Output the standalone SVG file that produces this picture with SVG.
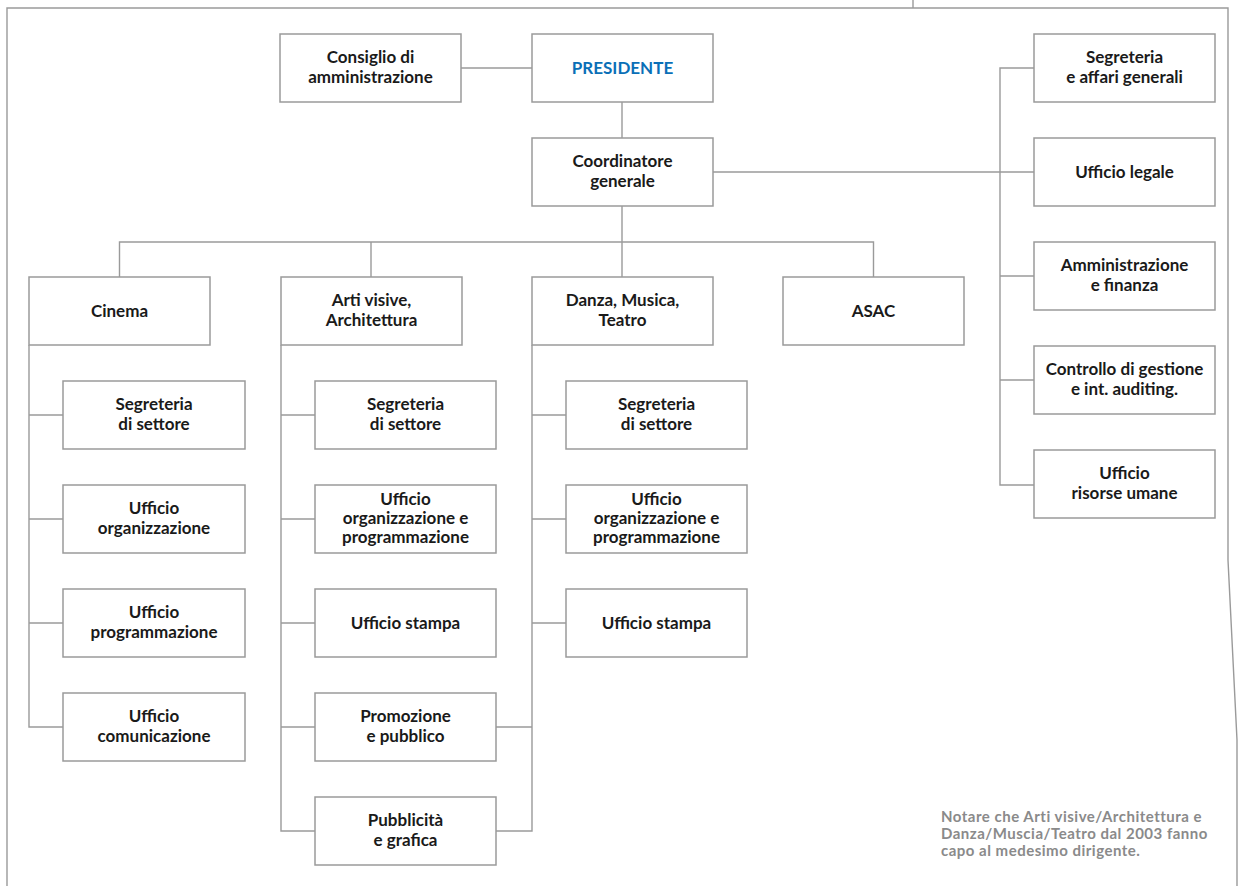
<svg xmlns="http://www.w3.org/2000/svg" width="1239" height="886" viewBox="0 0 1239 886">
<style>
.box{fill:#fff;stroke:#9a9a9a;stroke-width:1.5}
.ln{fill:none;stroke:#9a9a9a;stroke-width:1.4}
.t{font-family:Lato,"Liberation Sans",sans-serif;font-weight:bold;font-size:17px;fill:#1a1a1a;text-anchor:middle}
.pres{fill:#0a6fb7;font-size:17px}
.note{font-family:Lato,"Liberation Sans",sans-serif;font-weight:bold;font-size:15px;letter-spacing:0.5px;fill:#8a8a8a}
</style>
<rect width="1239" height="886" fill="#fff"/>
<g id="frame" class="ln">
<path d="M7,886 V8 H1228 V560 L1237,740 V886"/>
<path d="M913,0 V8"/>
</g>
<g id="connectors" class="ln">
<path d="M461,68 H532"/>
<path d="M622,102 V138"/>
<path d="M622,206 V277"/>
<path d="M119.5,277 V242 H873.5 V277"/>
<path d="M371,242 V277"/>
<path d="M713,172 H1034"/>
<path d="M1034,68 H1000 V485 H1034"/>
<path d="M1000,276 H1034"/>
<path d="M1000,380 H1034"/>
<path d="M29,345 V727 H63"/>
<path d="M29,415 H63 M29,519 H63 M29,623 H63"/>
<path d="M281,345 V831 H315"/>
<path d="M281,415 H315 M281,519 H315 M281,623 H315 M281,727 H315"/>
<path d="M532,345 V831 H496"/>
<path d="M532,415 H566 M532,519 H566 M532,623 H566 M496,727 H532"/>
</g>
<g id="consiglio"><rect class="box" x="280" y="34" width="181" height="68"/><text class="t" x="370.5" y="63">Consiglio di</text><text class="t" x="370.5" y="83">amministrazione</text></g>
<g id="presidente"><rect class="box" x="532" y="34" width="181" height="68"/><text class="t pres" x="622.5" y="74">PRESIDENTE</text></g>
<g id="coordinatore"><rect class="box" x="532" y="138" width="181" height="68"/><text class="t" x="622.5" y="167">Coordinatore</text><text class="t" x="622.5" y="187">generale</text></g>
<g id="segreteria-affari"><rect class="box" x="1034" y="34" width="181" height="68"/><text class="t" x="1124.5" y="63">Segreteria</text><text class="t" x="1124.5" y="83">e affari generali</text></g>
<g id="ufficio-legale"><rect class="box" x="1034" y="138" width="181" height="68"/><text class="t" x="1124.5" y="178">Ufficio legale</text></g>
<g id="amministrazione"><rect class="box" x="1034" y="242" width="181" height="68"/><text class="t" x="1124.5" y="271">Amministrazione</text><text class="t" x="1124.5" y="291">e finanza</text></g>
<g id="controllo"><rect class="box" x="1034" y="346" width="181" height="68"/><text class="t" x="1124.5" y="375">Controllo di gestione</text><text class="t" x="1124.5" y="395">e int. auditing.</text></g>
<g id="risorse-umane"><rect class="box" x="1034" y="450" width="181" height="68"/><text class="t" x="1124.5" y="479">Ufficio</text><text class="t" x="1124.5" y="499">risorse umane</text></g>
<g id="cinema"><rect class="box" x="29" y="277" width="181" height="68"/><text class="t" x="119.5" y="317">Cinema</text></g>
<g id="arti"><rect class="box" x="281" y="277" width="181" height="68"/><text class="t" x="371.5" y="306">Arti visive,</text><text class="t" x="371.5" y="326">Architettura</text></g>
<g id="danza"><rect class="box" x="532" y="277" width="181" height="68"/><text class="t" x="622.5" y="306">Danza, Musica,</text><text class="t" x="622.5" y="326">Teatro</text></g>
<g id="asac"><rect class="box" x="783" y="277" width="181" height="68"/><text class="t" x="873.5" y="317">ASAC</text></g>
<g id="cinema-segreteria"><rect class="box" x="63" y="381" width="182" height="68"/><text class="t" x="154" y="410">Segreteria</text><text class="t" x="154" y="430">di settore</text></g>
<g id="cinema-organizzazione"><rect class="box" x="63" y="485" width="182" height="68"/><text class="t" x="154" y="514">Ufficio</text><text class="t" x="154" y="534">organizzazione</text></g>
<g id="cinema-programmazione"><rect class="box" x="63" y="589" width="182" height="68"/><text class="t" x="154" y="618">Ufficio</text><text class="t" x="154" y="638">programmazione</text></g>
<g id="cinema-comunicazione"><rect class="box" x="63" y="693" width="182" height="68"/><text class="t" x="154" y="722">Ufficio</text><text class="t" x="154" y="742">comunicazione</text></g>
<g id="arti-segreteria"><rect class="box" x="315" y="381" width="181" height="68"/><text class="t" x="405.5" y="410">Segreteria</text><text class="t" x="405.5" y="430">di settore</text></g>
<g id="arti-organizzazione"><rect class="box" x="315" y="485" width="181" height="68"/><text class="t" x="405.5" y="505">Ufficio</text><text class="t" x="405.5" y="524">organizzazione e</text><text class="t" x="405.5" y="543">programmazione</text></g>
<g id="arti-stampa"><rect class="box" x="315" y="589" width="181" height="68"/><text class="t" x="405.5" y="629">Ufficio stampa</text></g>
<g id="arti-promozione"><rect class="box" x="315" y="693" width="181" height="68"/><text class="t" x="405.5" y="722">Promozione</text><text class="t" x="405.5" y="742">e pubblico</text></g>
<g id="arti-pubblicita"><rect class="box" x="315" y="797" width="181" height="68"/><text class="t" x="405.5" y="826">Pubblicità</text><text class="t" x="405.5" y="846">e grafica</text></g>
<g id="danza-segreteria"><rect class="box" x="566" y="381" width="181" height="68"/><text class="t" x="656.5" y="410">Segreteria</text><text class="t" x="656.5" y="430">di settore</text></g>
<g id="danza-organizzazione"><rect class="box" x="566" y="485" width="181" height="68"/><text class="t" x="656.5" y="505">Ufficio</text><text class="t" x="656.5" y="524">organizzazione e</text><text class="t" x="656.5" y="543">programmazione</text></g>
<g id="danza-stampa"><rect class="box" x="566" y="589" width="181" height="68"/><text class="t" x="656.5" y="629">Ufficio stampa</text></g>
<g id="nota">
<text class="note" x="941" y="822">Notare che Arti visive/Architettura e</text>
<text class="note" x="941" y="839">Danza/Muscia/Teatro dal 2003 fanno</text>
<text class="note" x="941" y="856">capo al medesimo dirigente.</text>
</g>
</svg>
